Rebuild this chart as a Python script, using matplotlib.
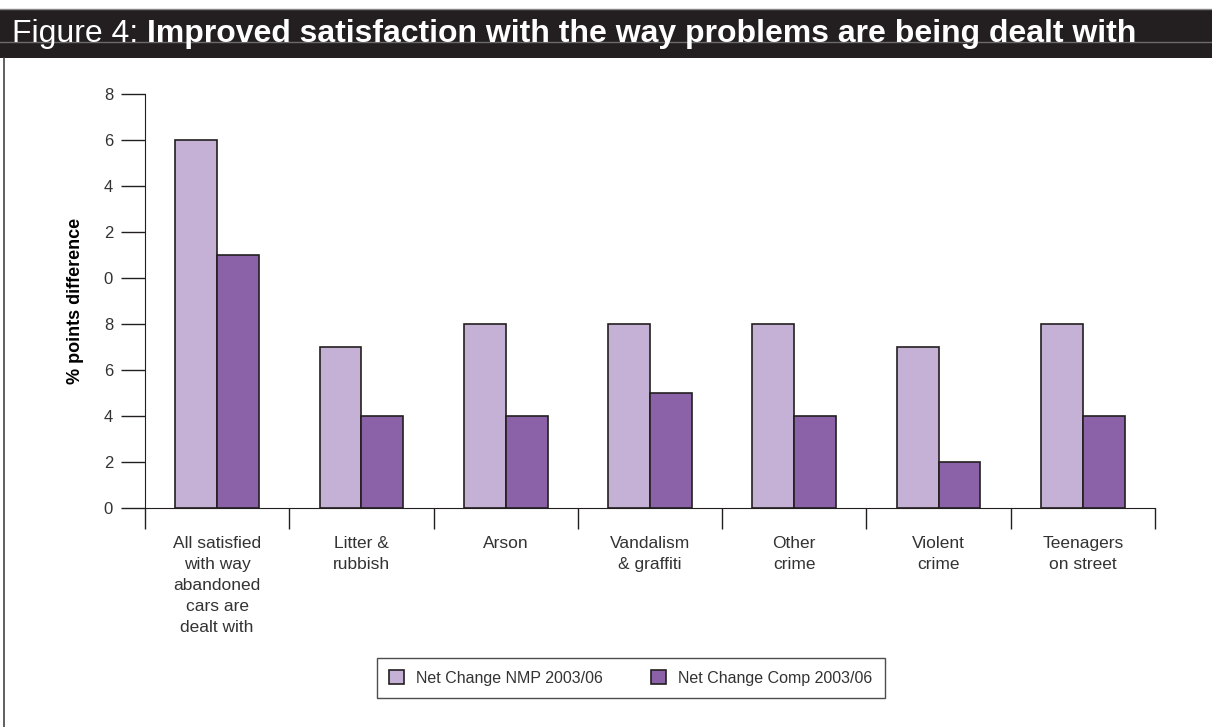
import numpy as np
import matplotlib
matplotlib.use("Agg")
import matplotlib.pyplot as plt
from matplotlib.patches import Rectangle
from matplotlib.lines import Line2D

plt.rcParams['font.family'] = ['Liberation Sans', 'DejaVu Sans']

# data
categories = ["All satisfied\nwith way\nabandoned\ncars are\ndealt with",
              "Litter &\nrubbish", "Arson", "Vandalism\n& graffiti",
              "Other\ncrime", "Violent\ncrime", "Teenagers\non street"]
nmp = [16, 7, 8, 8, 8, 7, 8]
comp = [11, 4, 4, 5, 4, 2, 4]
series_names = ["Net Change NMP 2003/06", "Net Change Comp 2003/06"]
ytick_vals = [0, 2, 4, 6, 8, 10, 12, 14, 16, 18]
ytick_text = ["0", "2", "4", "6", "8", "0", "2", "4", "6", "8"]

W, H = 1212, 727
fig = plt.figure(figsize=(W / 100, H / 100), dpi=100)

# title bar
fig.patches.append(Rectangle((0, 1 - 58 / H), 1, 49 / H, transform=fig.transFigure,
                             facecolor="#231f20", edgecolor="none"))
fig.lines.append(Line2D([0, 1], [1 - 42 / H, 1 - 42 / H], transform=fig.transFigure,
                        color="#6d6a6a", lw=1))
fig.lines.append(Line2D([0, 1], [1 - 9 / H, 1 - 9 / H], transform=fig.transFigure,
                        color="#8a8787", lw=1))
# frame left border
fig.lines.append(Line2D([4 / W, 4 / W], [0, 1 - 58 / H], transform=fig.transFigure,
                        color="#444444", lw=1.2))

t1 = fig.text(12 / W, 1 - 42 / H, "Figure 4: ", color="white", fontsize=23,
              va="baseline", ha="left")
fig.canvas.draw()
bb = t1.get_window_extent()
fig.text(bb.x1 / W, 1 - 42 / H, "Improved satisfaction with the way problems are being dealt with",
         color="white", fontsize=23, fontweight="bold", va="baseline", ha="left")

ax = fig.add_axes([145 / W, 1 - 508 / H, 1010 / W, 414 / H])
x = np.arange(len(categories))
w = 0.29
ax.bar(x - w / 2, nmp, w, color="#c5b1d5", edgecolor="#231f20", lw=1.2,
       label=series_names[0])
ax.bar(x + w / 2, comp, w, color="#8b62a8", edgecolor="#231f20", lw=1.2,
       label=series_names[1])

ax.set_xlim(-0.5, len(categories) - 0.5)
ax.set_ylim(0, 18)
for s in ["top", "right"]:
    ax.spines[s].set_visible(False)
ax.spines["left"].set_color("#231f20")
ax.spines["bottom"].set_color("#231f20")

ax.set_yticks(ytick_vals)
ax.set_yticklabels(ytick_text, fontsize=12, color="#333333")
ax.tick_params(axis="y", length=17, width=1, color="#231f20", pad=6)

# category boundary ticks on x axis
ax.set_xticks(np.arange(len(categories) + 1) - 0.5)
ax.set_xticklabels([])
ax.tick_params(axis="x", length=15, width=1, color="#231f20")
for i, c in enumerate(categories):
    ax.text(i, -1.2, c, ha="center", va="top", fontsize=12.5, color="#333333",
            linespacing=1.5)

ax.set_ylabel("% points difference", fontsize=13, fontweight="bold", labelpad=14)

leg = ax.legend(loc="center", bbox_to_anchor=(631 / W, 1 - 678 / H),
                bbox_transform=fig.transFigure, ncol=2, frameon=True, fancybox=False,
                fontsize=11.5, handlelength=0.9, handleheight=0.9, columnspacing=3,
                borderpad=0.8, handletextpad=0.8)
leg.get_frame().set_edgecolor("#231f20")
leg.get_frame().set_linewidth(1)
for t in leg.get_texts():
    t.set_color("#333333")

fig.savefig("out.png", dpi=100)
